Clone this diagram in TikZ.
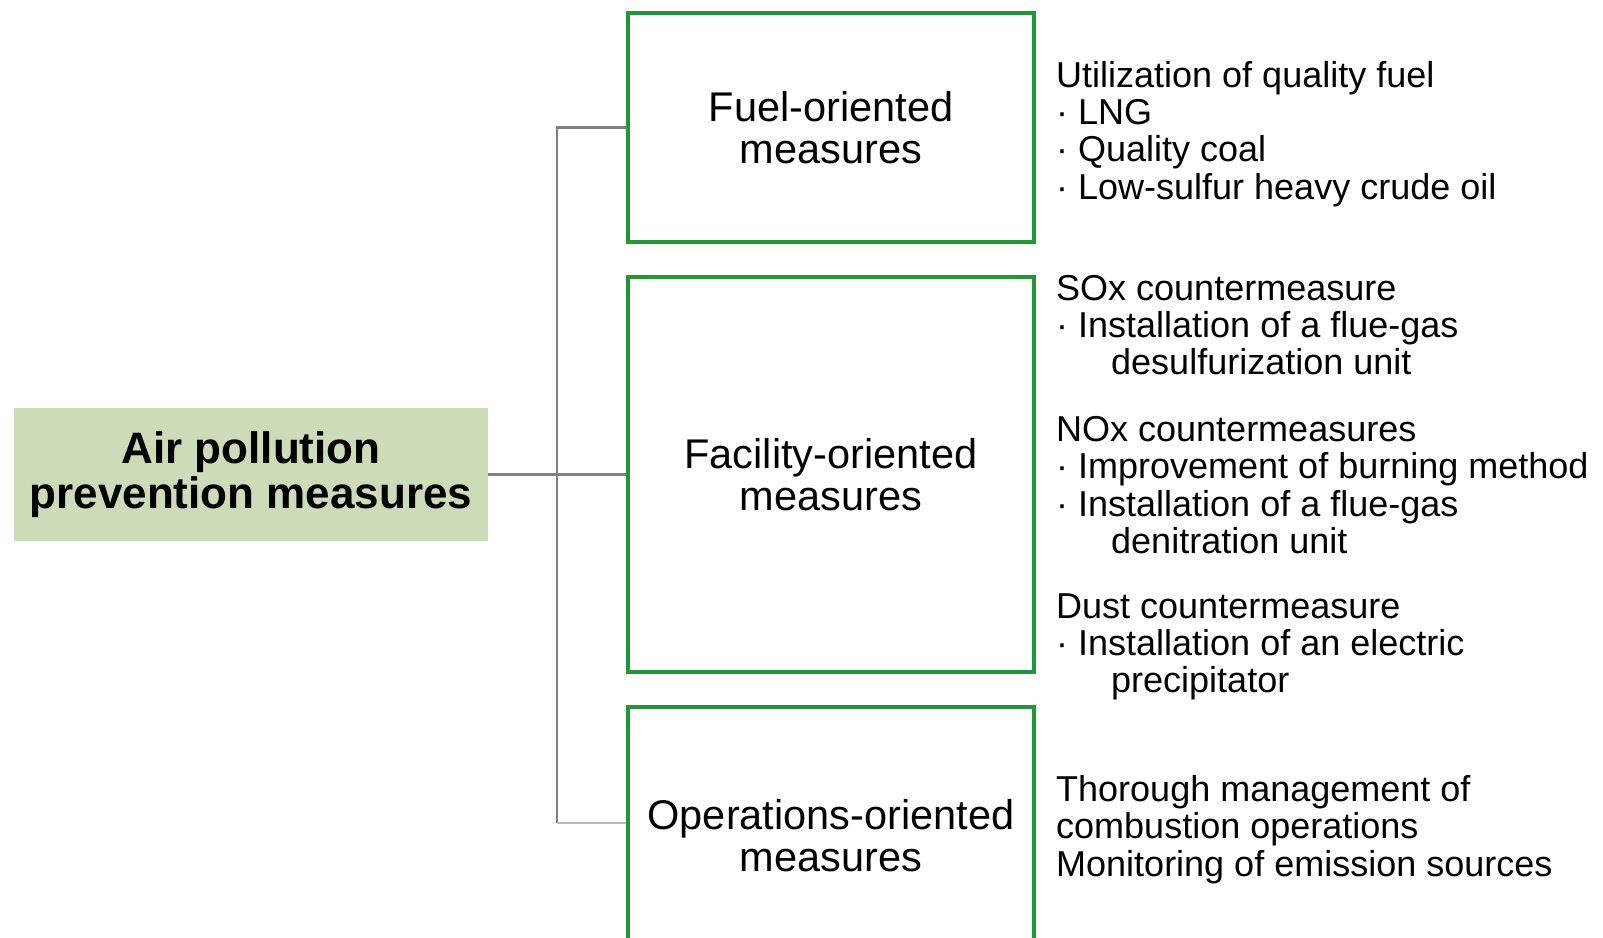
\documentclass[tikz,border=0pt]{standalone}
\usepackage{fontspec}
\setmainfont{Liberation Sans}
\definecolor{boxgreen}{RGB}{36,150,58}
\definecolor{rootfill}{RGB}{204,220,185}
\definecolor{conngray}{RGB}{128,128,128}
\definecolor{lightconn}{RGB}{185,185,185}
\tikzset{
 catbox/.style={draw=boxgreen, line width=4pt, minimum width=406pt, align=center, inner sep=0pt, font=\fontsize{41.5}{42}\selectfont},
 rootbox/.style={fill=rootfill, minimum width=474pt, minimum height=133pt, align=center, inner sep=0pt, font=\bfseries\fontsize{44}{45}\selectfont},
 listtext/.style={anchor=west, align=left, inner sep=0pt, font=\fontsize{36}{37.2}\selectfont},
 conn/.style={draw=conngray, line width=2.4pt},
 connlight/.style={draw=lightconn, line width=2.4pt},
}
\begin{document}
\begin{tikzpicture}[x=1pt,y=-1pt]
\useasboundingbox (0,0) rectangle (1603,937);
\clip (0,0) rectangle (1603,937);
\node[rootbox] (root) at (251,474.5) {Air pollution\\prevention measures};
\node[catbox, minimum height=229pt] (fuel) at (831,127.5) {Fuel-oriented\\measures};
\node[catbox, minimum height=395pt] (fac) at (831,474.5) {Facility-oriented\\measures};
\node[catbox, minimum height=258pt] (ops) at (831,836) {Operations-oriented\\measures};
\node[listtext] (fuellist) at (1056,134) {Utilization of quality fuel\\·\ LNG\\·\ Quality coal\\·\ Low-sulfur heavy crude oil};
\node[listtext] (soxlist) at (1056,325) {SOx countermeasure\\·\ Installation of a flue-gas\\\hspace*{55pt}desulfurization unit};
\node[listtext] (noxlist) at (1056,485) {NOx countermeasures\\·\ Improvement of burning method\\·\ Installation of a flue-gas\\\hspace*{55pt}denitration unit};
\node[listtext] (dustlist) at (1056,647) {Dust countermeasure\\·\ Installation of an electric\\\hspace*{55pt}precipitator};
\node[listtext] (opslist) at (1056,829.5) {Thorough management of\\combustion operations\\Monitoring of emission sources};
\coordinate (jb) at (557,823);
\draw[conn] (root.east) -- (fac.west);
\draw[conn] (fuel.west) -| (jb);
\draw[connlight] (jb) -- (jb -| ops.west);
\end{tikzpicture}
\end{document}
